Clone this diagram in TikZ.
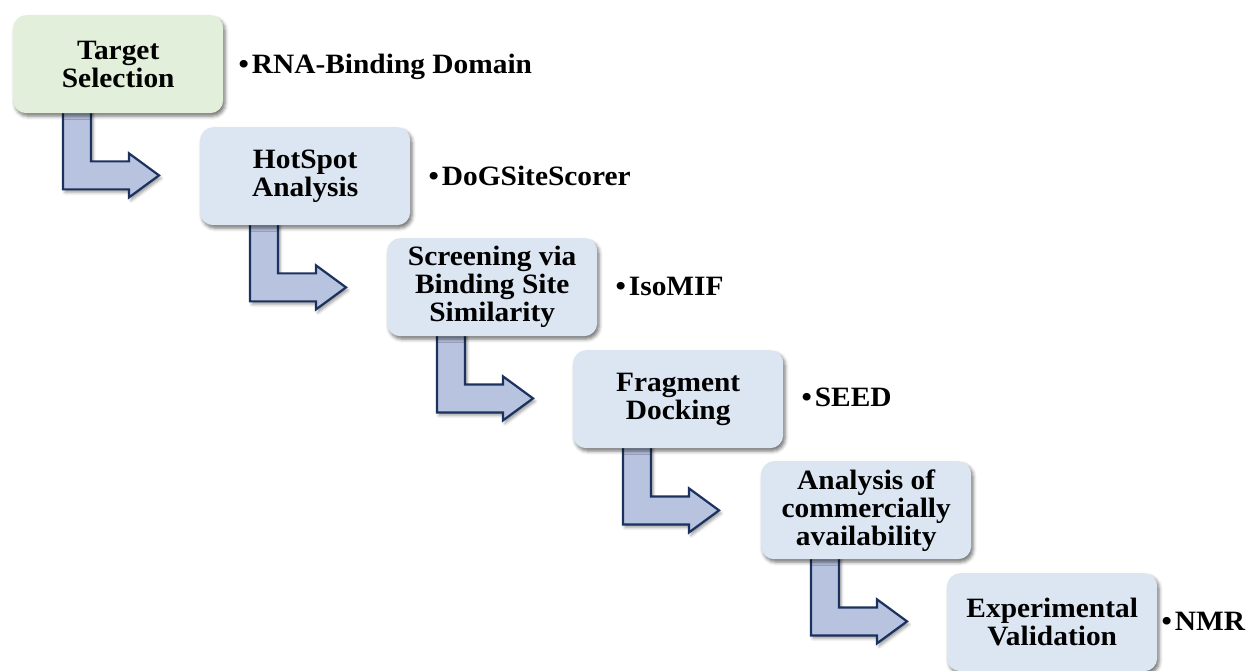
\documentclass[tikz,border=0pt]{standalone}
\usepackage{fontspec}
\setmainfont[FakeStretch=1.05]{Liberation Serif}
\usetikzlibrary{calc,shadows.blur,backgrounds}
\definecolor{boxblue}{RGB}{220,230,242}
\definecolor{boxgreen}{RGB}{226,239,218}
\definecolor{arrowfill}{RGB}{184,195,224}
\definecolor{arrowline}{RGB}{28,50,94}
\tikzset{
  stepbox/.style={rectangle, rounded corners=13pt, fill=boxblue, draw=none,
    minimum width=210pt, minimum height=98pt, inner sep=0pt, align=center,
    font=\fontsize{28}{28}\selectfont\bfseries,
    blur shadow={shadow xshift=2pt, shadow yshift=-3pt, shadow blur radius=3.5pt, shadow opacity=55}},
  greenbox/.style={stepbox, fill=boxgreen},
  lbl/.style={inner sep=0pt, anchor=base west, font=\fontsize{28}{28}\selectfont\bfseries},
  flowarrow/.style={fill=arrowfill, draw=arrowline, line width=2.2pt, line join=miter,
    blur shadow={shadow xshift=2pt, shadow yshift=-3pt, shadow blur radius=3pt, shadow opacity=40}}
}
\newcommand\bentarrow[1]{%
  \draw[flowarrow] ($(#1.south west)+(50,-4)$) -- ++(28,0) -- ++(0,52) -- ++(38,0)
    -- ++(0,-8) -- ++(30,22) -- ++(-30,22) -- ++(0,-8) -- ++(-66,0) -- cycle;}
\newcommand\bul{•\kern3pt}
\begin{document}
\begin{tikzpicture}[x=1pt,y=-1pt]
\useasboundingbox (0,0) rectangle (1251,671);
\node[greenbox, anchor=north west] (b1) at (13,15) {Target\\Selection};
\node[stepbox, anchor=north west] (b2) at (200,127) {HotSpot\\Analysis};
\node[stepbox, anchor=north west] (b3) at (387,238) {Screening via\\Binding Site\\Similarity};
\node[stepbox, anchor=north west] (b4) at (573,350) {Fragment\\Docking};
\node[stepbox, anchor=north west] (b5) at (761,461) {Analysis of\\commercially\\availability};
\node[stepbox, anchor=north west] (b6) at (947,573) {Experimental\\Validation};
\node[lbl] (l1) at ($(b1.east)+(15,9)$) {\bul RNA-Binding Domain};
\node[lbl] (l2) at ($(b2.east)+(18,9)$) {\bul DoGSiteScorer};
\node[lbl] (l3) at ($(b3.east)+(18,8)$) {\bul IsoMIF};
\node[lbl] (l4) at ($(b4.east)+(18,7)$) {\bul SEED};
\node[lbl] (l6) at ($(b6.east)+(4,8)$) {\bul NMR};
\begin{pgfonlayer}{background}
\bentarrow{b1}
\bentarrow{b2}
\bentarrow{b3}
\bentarrow{b4}
\bentarrow{b5}
\end{pgfonlayer}
\end{tikzpicture}
\end{document}
